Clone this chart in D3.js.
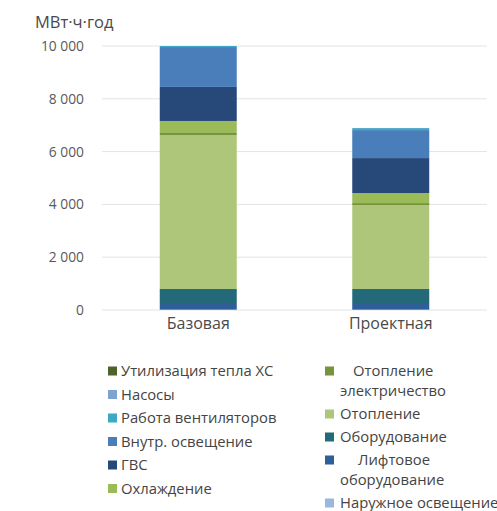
<!DOCTYPE html>
<html>
<head>
<meta charset="utf-8">
<script src="https://cdnjs.cloudflare.com/ajax/libs/d3/7.8.5/d3.min.js"></script>
<style>
  html, body { margin: 0; padding: 0; background: #fff; }
  svg { display: block; }
  text { font-family: "Open Sans", "Noto Sans", sans-serif; }
</style>
</head>
<body>
<svg id="chart" width="497" height="511"></svg>
<script>
// Scenarios on the x axis
const categories = ["Базовая", "Проектная"];

// Series in stacking order, bottom to top (MWh per year)
const seriesNames = [
  "Наружное освещение",
  "Лифтовое оборудование",
  "Оборудование",
  "Отопление",
  "Отопление электричество",
  "Охлаждение",
  "ГВС",
  "Внутр. освещение",
  "Работа вентиляторов",
  "Насосы",
  "Утилизация тепла ХС"
];
const baseValues    = [15, 250, 530, 5835, 75, 455, 1290, 1510, 40, 0, 0];
const projectValues = [15, 250, 530, 3180, 75, 380, 1325, 1060, 75, 0, 0];
const seriesColors = [
  "#9ab7de", "#2f5f98", "#23697a", "#adc67a", "#77933c",
  "#9bbb59", "#27497a", "#4a7ebb", "#3ea9c4", "#7fa3cf", "#4f6228"
];

const yTicks = [0, 2000, 4000, 6000, 8000, 10000];
const yUnit = "МВт·ч·год";

// Legend columns as laid out (each entry may wrap to two lines)
const legendLeft = [
  ["Утилизация тепла ХС"], ["Насосы"], ["Работа вентиляторов"],
  ["Внутр. освещение"], ["ГВС"], ["Охлаждение"]
];
const legendRight = [
  ["Отопление", "электричество"], ["Отопление"], ["Оборудование"],
  ["Лифтовое", "оборудование"], ["Наружное освещение"]
];

const svg = d3.select("#chart");
const plot = { left: 102, right: 487, top: 46, bottom: 310 };

const x = d3.scaleBand().domain(categories).range([plot.left, plot.right]).paddingInner(0.6).paddingOuter(0.3);
const y = d3.scaleLinear().domain([0, 10000]).range([plot.bottom, plot.top]);

// Gridlines
svg.append("g").selectAll("line").data(yTicks).join("line")
  .attr("x1", plot.left).attr("x2", plot.right)
  .attr("y1", d => y(d)).attr("y2", d => y(d))
  .attr("stroke", "#e3e3e3").attr("stroke-width", 1);

// Y axis labels
const fmt = d => d3.format(",")(d).replace(/,/g, " ");
const yAxis = d3.axisLeft(y).tickValues(yTicks).tickFormat(fmt).tickSize(0).tickPadding(0);
const yg = svg.append("g").attr("transform", `translate(${plot.left - 18},0)`).call(yAxis);
yg.select(".domain").remove();
yg.selectAll("text").style("font-size", "13.8px").style("font-family", "'Open Sans', sans-serif").attr("fill", "#595959");

svg.append("text").attr("x", 35).attr("y", 28).attr("fill", "#4a4a4a").style("font-size", "16.5px").text(yUnit);

// Stacked bars
const rows = categories.map((c, i) => {
  const vals = i === 0 ? baseValues : projectValues;
  const r = { cat: c };
  seriesNames.forEach((s, j) => r[s] = vals[j]);
  return r;
});
const stack = d3.stack().keys(seriesNames)(rows);
svg.append("g").selectAll("g").data(stack).join("g")
  .attr("fill", (d, i) => seriesColors[i])
  .selectAll("rect").data(d => d).join("rect")
  .attr("x", d => x(d.data.cat))
  .attr("width", x.bandwidth())
  .attr("y", d => y(d[1]))
  .attr("height", d => y(d[0]) - y(d[1]));

// Category labels
const xAxis = d3.axisBottom(x).tickSize(0).tickPadding(8);
const xg = svg.append("g").attr("transform", `translate(0,${plot.bottom})`).call(xAxis);
xg.select(".domain").remove();
xg.selectAll("text").style("font-size", "16px").style("font-family", "'Open Sans', sans-serif").attr("fill", "#4a4a4a");

// Legend
function legendColumn(items, sx, textX, startY, rowStep, lineStep, wrapIndents) {
  let yy = startY;
  items.forEach((lines, idx) => {
    const name = lines.join(" ");
    svg.append("rect").attr("x", sx).attr("y", yy - 4.5).attr("width", 9).attr("height", 9)
      .attr("fill", seriesColors[seriesNames.indexOf(name)]);
    lines.forEach((ln, k) => {
      svg.append("text")
        .attr("x", lines.length > 1 && k === 0 ? textX + (wrapIndents[idx] || 0) : textX)
        .attr("y", yy + k * lineStep)
        .attr("dy", "0.35em")
        .attr("fill", "#444")
        .style("font-size", "14.8px")
        .text(ln);
    });
    yy += rowStep + (lines.length - 1) * lineStep;
  });
}
legendColumn(legendLeft, 108, 121, 371, 23.5, 20, []);
legendColumn(legendRight, 325, 340, 371, 23, 20, [13, 0, 0, 18]);
</script>
</body>
</html>
